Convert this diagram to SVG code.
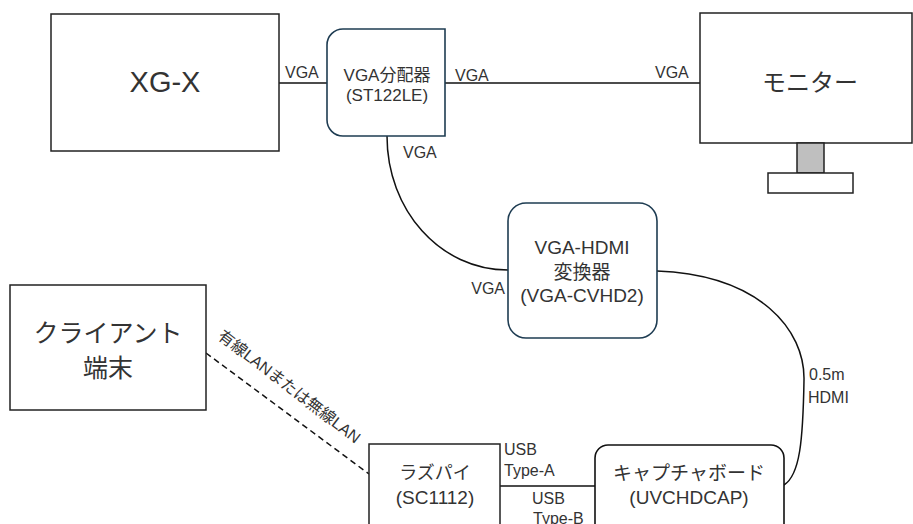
<svg xmlns="http://www.w3.org/2000/svg" width="913" height="524" viewBox="0 0 913 524">
<style>
text{font-family:"Liberation Sans","Noto Sans CJK JP",sans-serif;fill:#333}
.box{fill:#fff;stroke:#222;stroke-width:1.5}
.rbox{fill:#fff;stroke:#1e3c52;stroke-width:1.6}
.c{text-anchor:middle}
.ln{fill:none;stroke:#111;stroke-width:1.5}
.lbl{font-size:16px}
</style>
<rect width="913" height="524" fill="#fff"/>
<g id="connectors">
<path class="ln" d="M279,83 H327"/>
<path class="ln" d="M445,83 H700"/>
<path class="ln" d="M387,136 C387,210 440,270 508,270"/>
<path class="ln" d="M657,271 C760,275 805,330 804,380 C803,440 800,475 784,485"/>
<path class="ln" d="M500,486 H595"/>
<path class="ln" d="M206,353 L369,474" stroke-dasharray="6,4"/>
<text class="lbl" x="285" y="78">VGA</text>
<text class="lbl" x="455" y="81">VGA</text>
<text class="lbl" x="655" y="78">VGA</text>
<text class="lbl" x="403" y="158">VGA</text>
<text class="lbl" x="505" y="294" text-anchor="end">VGA</text>
<text class="lbl" x="809" y="380">0.5m</text>
<text class="lbl" x="808" y="403">HDMI</text>
<text class="lbl" x="504" y="455">USB</text>
<text class="lbl" x="504" y="476">Type-A</text>
<text class="lbl" x="532" y="504">USB</text>
<text class="lbl" x="533" y="524">Type-B</text>
<text font-size="16" text-anchor="middle" transform="translate(289,387) rotate(37.5)" dy="5">有線LANまたは無線LAN</text>
</g>
<g id="xgx">
<rect class="box" x="51" y="14" width="228" height="137"/>
<text class="c" x="165" y="92" font-size="29">XG-X</text>
</g>
<g id="splitter">
<path class="rbox" d="M343,29 H445 V136 H343 A16,16 0 0 1 327,120 V45 A16,16 0 0 1 343,29 Z"/>
<text class="c" x="387" y="81" font-size="17">VGA分配器</text>
<text class="c" x="387" y="101" font-size="17">(ST122LE)</text>
</g>
<g id="monitor">
<rect class="box" x="700" y="13" width="212" height="130"/>
<rect x="797" y="143" width="27" height="30" fill="#bfbfbf" stroke="#222" stroke-width="1.5"/>
<rect class="box" x="768" y="173" width="85" height="20"/>
<text class="c" x="810" y="91" font-size="24">モニター</text>
</g>
<g id="converter">
<rect class="rbox" x="508" y="203" width="149" height="135" rx="18" ry="18"/>
<text class="c" x="582" y="254" font-size="19">VGA-HDMI</text>
<text class="c" x="582" y="279" font-size="19">変換器</text>
<text class="c" x="582" y="302" font-size="19">(VGA-CVHD2)</text>
</g>
<g id="client">
<rect class="box" x="10" y="285" width="196" height="125"/>
<text class="c" x="108" y="342" font-size="25">クライアント</text>
<text class="c" x="108" y="377" font-size="25">端末</text>
</g>
<g id="raspi">
<rect class="box" x="369" y="444" width="131" height="100"/>
<text class="c" x="435" y="479" font-size="18">ラズパイ</text>
<text class="c" x="435" y="504" font-size="19">(SC1112)</text>
</g>
<g id="capture">
<rect x="595" y="445" width="189" height="100" rx="13" ry="13" fill="#fff" stroke="#111" stroke-width="1.6"/>
<text class="c" x="689" y="480" font-size="19">キャプチャボード</text>
<text class="c" x="689" y="504" font-size="19">(UVCHDCAP)</text>
</g>
</svg>
